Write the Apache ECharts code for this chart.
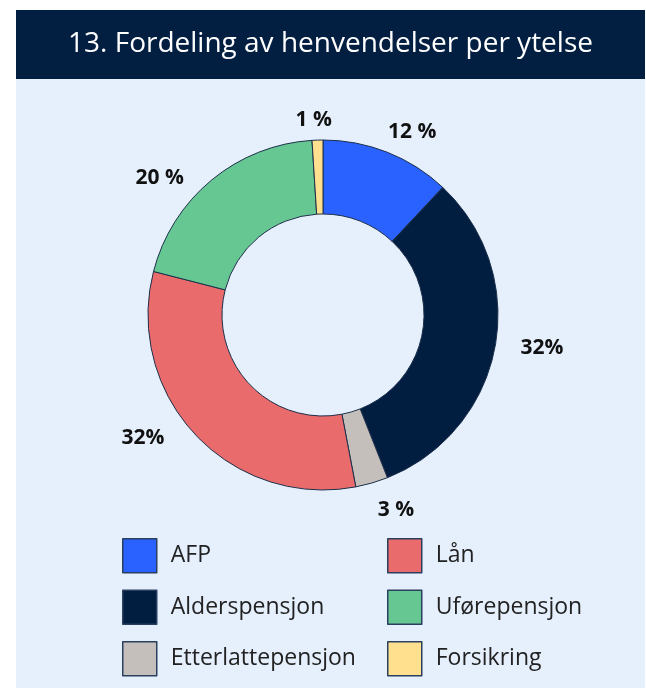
<!DOCTYPE html>
<html>
<head>
<meta charset="utf-8">
<script src="https://cdn.jsdelivr.net/npm/echarts@6/dist/echarts.min.js"></script>
<style>
  html, body { margin: 0; padding: 0; background: #ffffff; }
  #chart {
    position: absolute;
    left: 16px;
    top: 10px;
    width: 629px;
    height: 678px;
    background: #e6f0fd;
  }
</style>
</head>
<body>
<div id="chart"></div>
<script>
// data
const categories = ['AFP', 'Alderspensjon', 'Etterlattepensjon', 'Lån', 'Uførepensjon', 'Forsikring'];
const shares = [12, 32, 3, 32, 20, 1];
const shareLabels = ['12 %', '32%', '3 %', '32%', '20 %', '1 %'];
const colors = ['#2962ff', '#011e41', '#c4bfba', '#e96b6b', '#66c792', '#ffe08e'];
const leftColumn = ['AFP', 'Alderspensjon', 'Etterlattepensjon'];
const rightColumn = ['Lån', 'Uførepensjon', 'Forsikring'];
// small nudges so the labels sit like in the original
const labelShift = [[-17, -4], [-3, -3], [-10, 10], [-7, -9], [-5, 12], [26, -2]];

const chart = echarts.init(document.getElementById('chart'));

const legendBase = {
  orient: 'vertical',
  top: 523,
  itemWidth: 34,
  itemHeight: 34,
  itemGap: 16,
  icon: 'rect',
  selectedMode: false,
  itemStyle: { borderColor: '#2b3f5e', borderWidth: 1.5 },
  textStyle: { fontFamily: 'Open Sans', fontSize: 23, color: '#222', padding: [0, 0, 0, 9] }
};

chart.setOption({
  color: colors,
  graphic: [{
    type: 'rect',
    left: 0,
    top: 0,
    shape: { width: 629, height: 69 },
    style: { fill: '#021f42' },
    z: 0
  }],
  title: {
    text: '13. Fordeling av henvendelser per ytelse',
    left: 'center',
    top: 15,
    textStyle: { fontFamily: 'Open Sans', fontWeight: 'normal', fontSize: 28, color: '#ffffff' }
  },
  legend: [
    Object.assign({}, legendBase, { left: 101, data: leftColumn }),
    Object.assign({}, legendBase, { left: 366, data: rightColumn })
  ],
  series: [{
    type: 'pie',
    center: [307, 305],
    radius: [101, 175],
    startAngle: 90,
    clockwise: true,
    avoidLabelOverlap: false,
    itemStyle: { borderColor: '#1c2e4a', borderWidth: 1 },
    label: {
      show: true,
      position: 'outside',
      formatter: p => shareLabels[p.dataIndex],
      fontFamily: 'Open Sans',
      fontWeight: 'bold',
      fontSize: 21,
      color: '#111'
    },
    labelLine: { show: false, length: 18, length2: 6 },
    labelLayout: p => ({ dx: labelShift[p.dataIndex][0], dy: labelShift[p.dataIndex][1] }),
    emphasis: { disabled: true },
    data: categories.map((name, i) => ({ name, value: shares[i] }))
  }]
});
</script>
</body>
</html>
